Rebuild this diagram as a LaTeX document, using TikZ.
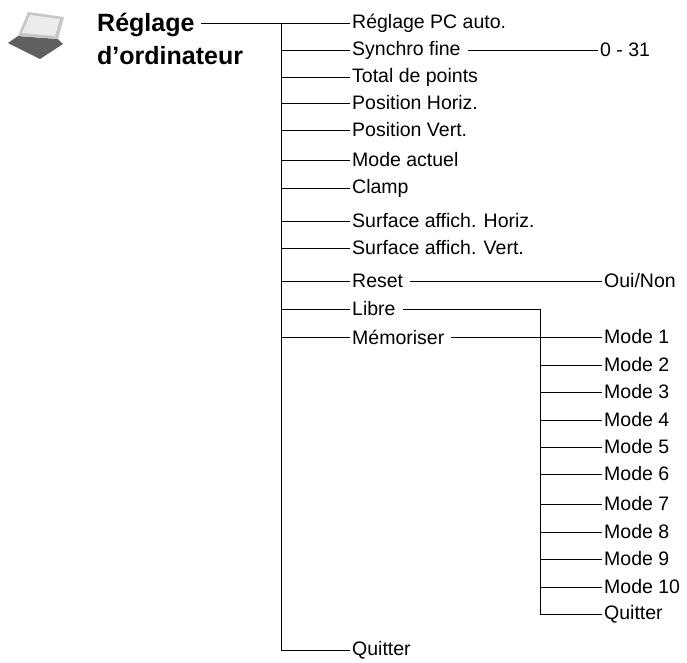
\documentclass[tikz,border=0pt]{standalone}
\usepackage{fontspec}
\setmainfont{Liberation Sans}
\usetikzlibrary{positioning}

\begin{document}
\begin{tikzpicture}[x=1pt,y=-1pt
	,every node/.append style={inner sep=2pt, font=\fontsize{19.5}{22}\selectfont}
	,item/.style={anchor=west}
	,head/.style={anchor=west, inner sep=3pt, font=\fontsize{25}{30}\selectfont\bfseries}
	,link/.style={line width=.7pt}
]
	\useasboundingbox (0,0) rectangle (687,662);
	% laptop icon
	\fill[gray!75!black] (8,43) -- (40,59) -- (63,44) -- (58,39) -- (18,36) -- cycle;
	\fill[gray!45] (18,36) -- (28,12) -- (64,17) -- (58,39) -- cycle;
	\fill[gray!15] (22,33) -- (30,15) -- (60,19) -- (55,36) -- cycle;
	% heading
	\node[head] (title) at (94,25) {Réglage};
	\node[head] (title2) at (94,56) {d’ordinateur};
	\coordinate (top) at (281,23);
	\coordinate (bot) at (281,650);
	\draw[link] ([xshift=3pt]title.east |- top) -- (top) -- (bot);
	% main menu
	\foreach \name/\y/\txt in {a/23/Réglage PC auto., b/50/Synchro fine, c/77/Total de points,
		d/103/Position Horiz., e/130/Position Vert., f/160/Mode actuel, g/188/Clamp,
		h/221/Surface affich. Horiz., i/248/Surface affich. Vert., j/281/Reset,
		k/309/Libre, l/337/Mémoriser, q/650/Quitter}{
		\node[item] (\name) at (350,\y) {\txt};
		\draw[link] (281,\y) -- (\name.west);
	}
	% sub items
	\node[item] (val) at (598,50) {0 - 31};
	\draw[link] ([xshift=5pt]b.east) -- (val.west);
	\node[item] (yn) at (602,281) {Oui/Non};
	\draw[link] ([xshift=5pt]j.east) -- (yn.west);
	\coordinate (mtop) at (540,309);
	\coordinate (mbot) at (540,614);
	\draw[link] ([xshift=5pt]k.east) -- (mtop) -- (mbot);
	\foreach \n/\y in {1/337,2/365,3/392,4/420,5/447,6/474,7/504,8/532,9/559,10/587}{
		\node[item] (m\n) at (602,\y) {Mode \n};
		\draw[link] (540,\y) -- (m\n.west);
	}
	\draw[link] ([xshift=5pt]l.east) -- (540,337);
	\node[item] (mq) at (602,614) {Quitter};
	\draw[link] (mbot) -- (mq.west);
\end{tikzpicture}
\end{document}
